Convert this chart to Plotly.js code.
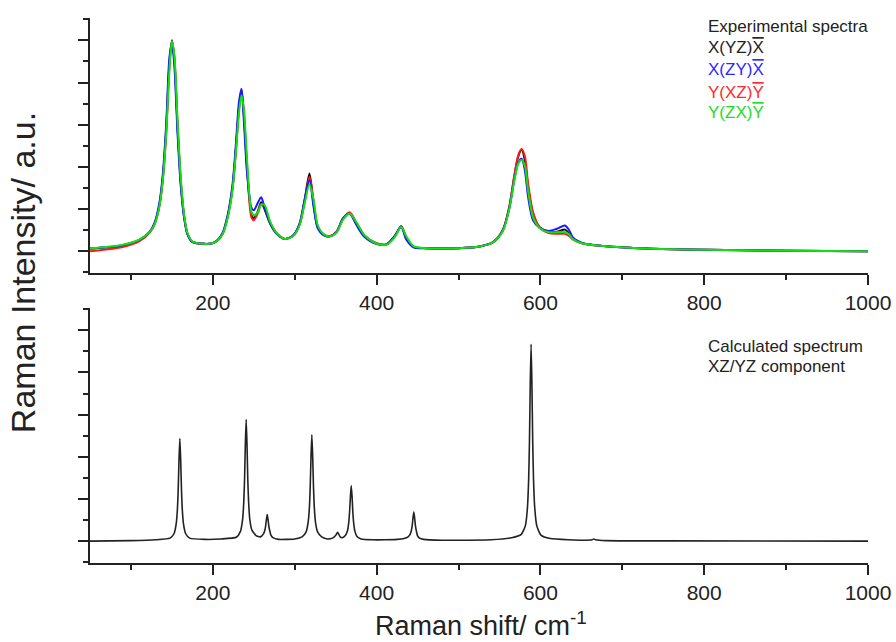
<!DOCTYPE html>
<html>
<head>
<meta charset="utf-8">
<script src="https://cdn.plot.ly/plotly-3.0.1.min.js"></script>
<style>html,body{margin:0;padding:0;background:#fff;}#chart{width:896px;height:642px;}</style>
</head>
<body>
<div id="chart"></div>
<script>
// Experimental spectra (Raman shift, cm-1)
const xExp = [50,70,90,110,123,129,135,139,143,147,150,153,157,161,165,169,175,185,198,205,212,218,224,228,232,235,238,242,247,250,255,259,263,270,278,288,298,306,312,318,323,328,336,343,351,359,367,375,385,400,412,422,430,436,445,461,500,526,542,554,562,568,573,577,581,585,591,599,610,620,630,635,640,652,677,730,800,900,1000];
const yXYZX = [0.06,0.09,0.14,0.26,0.45,0.65,1.12,1.76,2.86,4.45,5.0,4.55,2.9,1.6,0.81,0.41,0.22,0.18,0.18,0.24,0.42,0.81,1.5,2.39,3.42,3.82,3.2,1.9,0.9,0.78,0.95,1.16,1.0,0.65,0.41,0.29,0.37,0.65,1.2,1.84,1.12,0.57,0.38,0.35,0.45,0.77,0.90,0.66,0.36,0.18,0.16,0.35,0.59,0.32,0.10,0.07,0.07,0.11,0.21,0.49,1.04,1.76,2.25,2.41,2.15,1.52,0.89,0.57,0.46,0.46,0.51,0.42,0.29,0.18,0.12,0.06,0.03,0.01,0.0];
const yXZYX = [0.06,0.09,0.14,0.26,0.46,0.68,1.18,1.85,3.0,4.6,4.95,4.4,2.75,1.5,0.78,0.40,0.22,0.18,0.18,0.25,0.44,0.85,1.58,2.5,3.55,3.85,3.05,1.8,1.04,0.97,1.15,1.28,1.05,0.66,0.41,0.29,0.37,0.66,1.22,1.68,1.05,0.55,0.37,0.35,0.45,0.78,0.89,0.63,0.34,0.17,0.16,0.36,0.58,0.28,0.09,0.07,0.07,0.11,0.21,0.49,1.02,1.68,2.1,2.19,1.92,1.28,0.73,0.55,0.48,0.53,0.61,0.50,0.32,0.19,0.12,0.06,0.03,0.01,0.0];
const yYXZY = [0.0,0.04,0.1,0.23,0.44,0.65,1.1,1.72,2.8,4.4,4.98,4.6,2.95,1.62,0.82,0.42,0.22,0.18,0.18,0.24,0.41,0.8,1.48,2.36,3.38,3.8,3.25,1.95,0.81,0.73,0.9,1.12,1.05,0.68,0.43,0.29,0.36,0.63,1.15,1.76,1.2,0.6,0.39,0.36,0.46,0.77,0.92,0.69,0.38,0.19,0.16,0.34,0.59,0.34,0.11,0.07,0.07,0.11,0.21,0.5,1.06,1.78,2.28,2.42,2.25,1.6,0.92,0.56,0.43,0.41,0.41,0.36,0.27,0.18,0.12,0.06,0.03,0.01,0.0];
const yYZXY = [0.07,0.1,0.15,0.27,0.45,0.64,1.08,1.7,2.75,4.3,4.98,4.65,3.05,1.7,0.86,0.43,0.23,0.18,0.18,0.24,0.41,0.78,1.45,2.3,3.3,3.7,3.35,2.1,0.95,0.85,0.92,1.1,1.1,0.7,0.42,0.29,0.36,0.62,1.12,1.58,1.22,0.62,0.39,0.35,0.44,0.75,0.89,0.69,0.38,0.18,0.15,0.33,0.57,0.36,0.12,0.07,0.07,0.11,0.21,0.47,1.0,1.66,2.08,2.16,2.02,1.42,0.8,0.55,0.45,0.45,0.45,0.40,0.28,0.18,0.12,0.06,0.03,0.01,0.0];

// Calculated spectrum
const xCalc = [50,100,130,147.7,152.7,155.2,156.7,157.7,158.7,159.7,160.7,161.7,162.7,164.2,166.7,171.7,190,210,
  228.7,233.7,236.2,237.7,238.7,239.7,240.7,241.7,242.7,243.7,245.2,247.7,252.7,
  258,261.9,263.4,264.4,265.4,266.4,267.4,268.4,269.4,270.9,273.4,280,290,
  300,308.9,313.9,316.4,317.9,318.9,319.9,320.9,321.9,322.9,323.9,325.4,327.9,332.9,340,
  346,349.3,350.8,352.3,353.8,355.5,358,
  362,364.5,366,367,368,369,370,371,372,373.5,376,381,395,410,
  425,433.4,438.4,440.9,442.4,443.4,444.4,445.4,446.4,447.4,448.4,449.9,452.4,457.4,480,510,
  540,565,576.6,581.6,584.1,585.6,586.6,587.6,588.6,589.6,590.6,591.6,593.1,595.6,600.6,612,635,
  655,663,665.3,667.5,680,750,1000];
const yCalc = [0,0.01,0.03,0.07,0.18,0.4,0.75,1.22,1.94,2.43,1.94,1.22,0.75,0.4,0.18,0.07,0.04,0.05,
  0.09,0.23,0.49,0.9,1.45,2.3,2.88,2.3,1.45,0.92,0.5,0.26,0.13,
  0.1,0.17,0.25,0.35,0.51,0.63,0.51,0.35,0.25,0.14,0.08,0.04,0.04,
  0.05,0.1,0.22,0.45,0.8,1.28,2.02,2.52,2.02,1.28,0.8,0.44,0.22,0.1,0.05,
  0.07,0.12,0.16,0.21,0.16,0.1,0.08,
  0.14,0.25,0.45,0.7,1.06,1.32,1.06,0.67,0.42,0.23,0.11,0.05,0.03,0.03,
  0.04,0.06,0.1,0.16,0.25,0.36,0.55,0.69,0.55,0.36,0.25,0.13,0.07,0.04,0.02,0.02,
  0.03,0.08,0.16,0.36,0.78,1.45,2.35,3.75,4.67,3.75,2.35,1.45,0.78,0.36,0.14,0.06,0.03,
  0.02,0.03,0.05,0.03,0.01,0.005,0];

const expNames = ['X(YZ)X', 'X(ZY)X', 'Y(XZ)Y', 'Y(ZX)Y'];
const expLabelsHtml = [
  'X(YZ)<span style="text-decoration:overline">X</span>',
  'X(ZY)<span style="text-decoration:overline">X</span>',
  'Y(XZ)<span style="text-decoration:overline">Y</span>',
  'Y(ZX)<span style="text-decoration:overline">Y</span>'
];
const expColors = ['#111111', '#1a1aff', '#ff1a1a', '#11e011'];
const textColors = ['#222222', '#2b2bff', '#ff2b2b', '#22dd22'];
const expSeries = [yXYZX, yXZYX, yYXZY, yYZXY];
const drawOrder = [0, 2, 1, 3];

const FONT = 'Liberation Sans, Arimo, Arial, sans-serif';

const traces = drawOrder.map(i => ({
  x: xExp, y: expSeries[i], type: 'scatter', mode: 'lines', name: expNames[i],
  line: {color: expColors[i], width: 2, shape: 'spline', smoothing: 0.8},
  xaxis: 'x', yaxis: 'y', hoverinfo: 'skip'
}));
traces.push({
  x: xCalc, y: yCalc, type: 'scatter', mode: 'lines', name: 'Calculated',
  line: {color: '#222222', width: 1.6, shape: 'spline', smoothing: 0.5}, xaxis: 'x2', yaxis: 'y2', hoverinfo: 'skip'
});

function xAx(anchor) {
  return {
    anchor: anchor, range: [50, 1000], showgrid: false, zeroline: false,
    showline: true, linecolor: '#222', linewidth: 2,
    ticks: 'outside', ticklen: 10, tickwidth: 2, tickcolor: '#222',
    tick0: 0, dtick: 200, tickfont: {family: FONT, size: 21, color: '#222'},
    minor: {dtick: 100, tick0: 0, ticks: 'outside', ticklen: 5, tickwidth: 2, tickcolor: '#222'}
  };
}
function yAx(anchor, domain) {
  return {
    anchor: anchor, domain: domain, range: [-0.52, 5.53], showgrid: false, zeroline: false,
    showline: true, linecolor: '#222', linewidth: 2,
    ticks: 'outside', ticklen: 10, tickwidth: 2, tickcolor: '#222',
    tick0: 0, dtick: 1, showticklabels: false,
    minor: {dtick: 0.5, tick0: 0, ticks: 'outside', ticklen: 5, tickwidth: 2, tickcolor: '#222'}
  };
}

const legendY = [0.945, 0.906, 0.864, 0.826];
const annotations = [
  {text: 'Experimental spectra', x: 0.792, y: 0.985, color: '#222'},
  {text: 'Calculated spectrum', x: 0.792, y: 0.398, color: '#222'},
  {text: 'XZ/YZ component', x: 0.792, y: 0.360, color: '#222'}
].map(a => ({xref: 'paper', yref: 'paper', x: a.x, y: a.y, text: a.text, showarrow: false,
  xanchor: 'left', yanchor: 'middle', font: {family: FONT, size: 17, color: a.color}}));
expLabelsHtml.forEach((t, i) => annotations.push({
  xref: 'paper', yref: 'paper', x: 0.792, y: legendY[i], text: t, showarrow: false,
  xanchor: 'left', yanchor: 'middle', font: {family: FONT, size: 17, color: textColors[i]}
}));
annotations.push({
  xref: 'paper', yref: 'paper', x: -0.086, y: 0.532, text: 'Raman Intensity/ a.u.',
  textangle: -90, showarrow: false, xanchor: 'center', yanchor: 'middle',
  font: {family: FONT, size: 34, color: '#222'}
});
annotations.push({
  xref: 'paper', yref: 'paper', x: 0.503, y: -0.112, text: 'Raman shift/ cm<sup>-1</sup>',
  showarrow: false, xanchor: 'center', yanchor: 'middle',
  font: {family: FONT, size: 27, color: '#222'}
});

const layout = {
  width: 896, height: 642,
  margin: {l: 90, r: 28, t: 18, b: 79},
  paper_bgcolor: '#fff', plot_bgcolor: '#fff',
  showlegend: false,
  xaxis: xAx('y'),
  yaxis: yAx('x', [0.532, 1]),
  xaxis2: xAx('y2'),
  yaxis2: yAx('x2', [0, 0.468]),
  annotations: annotations
};

Plotly.newPlot('chart', traces, layout, {staticPlot: true, displayModeBar: false});
</script>
</body>
</html>
